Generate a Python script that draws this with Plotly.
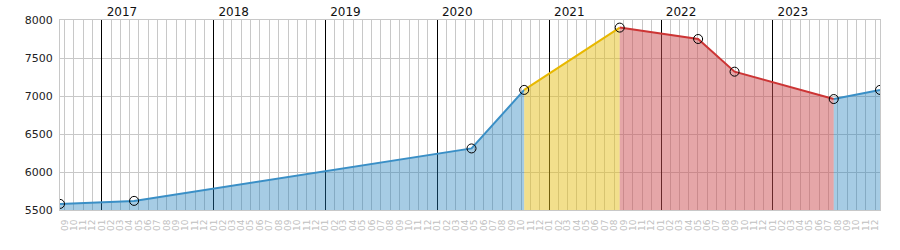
import plotly.graph_objects as go

# ---- data ----
dates = ["2016-08-17", "2017-04-16", "2020-04-22", "2020-10-11", "2021-08-19",
         "2022-05-02", "2022-08-29", "2023-07-19", "2023-12-17"]
values = [5580, 5620, 6310, 7080, 7900, 7750, 7320, 6960, 7080]

# segments: (start index, end index, phase)
seg_start = [0, 3, 4, 7]
seg_end = [3, 4, 7, 8]
seg_phase = ["blue", "yellow", "red", "blue"]

years = ["2017", "2018", "2019", "2020", "2021", "2022", "2023"]
year_starts = [y + "-01-01" for y in years]

# ---- styles ----
line_col = {"blue": "#3a8fc6", "yellow": "#e8b800", "red": "#cc3535"}
fill_col = {"blue": "rgba(33,128,188,0.4)", "yellow": "rgba(229,191,25,0.5)",
            "red": "rgba(203,77,81,0.5)"}

fig = go.Figure()
for s, e, p in zip(seg_start, seg_end, seg_phase):
    fig.add_trace(go.Scatter(
        x=dates[s:e + 1], y=values[s:e + 1], mode="lines",
        line=dict(color=line_col[p], width=2),
        fill="tozeroy", fillcolor=fill_col[p],
        showlegend=False, hoverinfo="skip"))

fig.add_trace(go.Scatter(
    x=dates, y=values, mode="markers", xaxis="x2",
    marker=dict(size=9, color="rgba(0,0,0,0)", line=dict(color="black", width=1)),
    showlegend=False))

grid = "#c8c8c8"
fig.update_layout(
    width=900, height=250,
    margin=dict(l=60, r=20, t=20, b=40),
    paper_bgcolor="white", plot_bgcolor="white",
    font=dict(family="DejaVu Sans", color="#222"),
    xaxis=dict(type="date", range=[dates[0], dates[-1]], automargin=False,
               dtick="M1", tick0="2000-01-01", tickformat="%m",
               tickangle=-90, tickfont=dict(size=9, color="#c0c0c0"),
               showgrid=True, gridcolor=grid, gridwidth=1,
               showline=True, linecolor=grid, mirror=True,
               ticks="", zeroline=False, ticklabelstandoff=5),
    xaxis2=dict(type="date", overlaying="x", matches="x", side="top",
                anchor="y", tickmode="array", tickvals=year_starts,
                ticktext=years, tickfont=dict(size=12, color="#111"),
                showgrid=True, gridcolor="black", gridwidth=1, automargin=False,
                ticks="", showline=False, zeroline=False,
                ticklabelshift=20, ticklabelstandoff=1),
    yaxis=dict(range=[5500, 8000], dtick=500, tickfont=dict(size=11, color="#222"),
               showgrid=True, gridcolor=grid, gridwidth=1, automargin=False,
               showline=True, linecolor=grid, mirror=True,
               ticks="", zeroline=False, ticklabelstandoff=4),
)

fig.write_html("out.html")
